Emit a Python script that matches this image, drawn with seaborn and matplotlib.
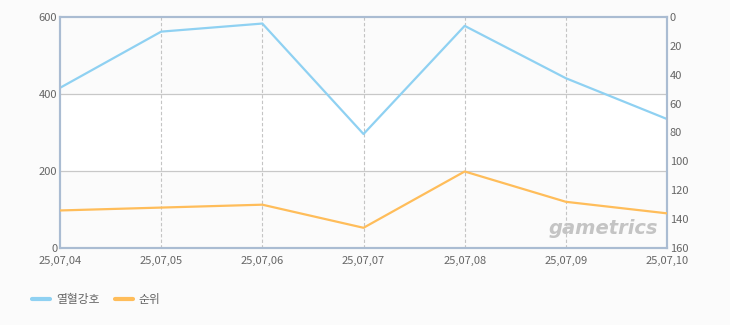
import matplotlib
matplotlib.use("Agg")
import matplotlib.pyplot as plt
import seaborn as sns
import pandas as pd
from matplotlib.lines import Line2D

dates = ["25,07,04", "25,07,05", "25,07,06", "25,07,07", "25,07,08", "25,07,09", "25,07,10"]
usage = [416, 562, 583, 296, 577, 441, 335]
rank = [134, 132, 130, 146, 107, 128, 136]
left_ticks = [0, 200, 400, 600]
right_ticks = [0, 20, 40, 60, 80, 100, 120, 140, 160]
series_names = ["열혈강호", "순위"]

sns.set_theme(style="white")
plt.rcParams['font.family'] = ['Noto Sans CJK KR', 'DejaVu Sans']

BLUE = "#8fd1f2"
ORANGE = "#ffbd5a"
SPINE = "#aabcd2"
TXT = "#666666"

df = pd.DataFrame({"x": range(len(dates)), "usage": usage, "rank": rank})

fig = plt.figure(figsize=(7.3, 3.25), dpi=100, facecolor="#fbfbfb")
ax = fig.add_axes([60/730, 77/325, 607/730, 231/325])
ax.set_facecolor("#fbfbfb")
ax.axhspan(200, 400, color="white", zorder=0)

sns.lineplot(data=df, x="x", y="usage", ax=ax, color=BLUE, linewidth=1.6, zorder=3)
ax.set_xlim(0, len(dates) - 1)
ax.set_ylim(0, 600)
ax.set_yticks(left_ticks)
ax.set_xticks(range(len(dates)))
ax.set_xticklabels(dates)
ax.set_xlabel("")
ax.set_ylabel("")
for v in [200, 400]:
    ax.axhline(v, color="#c8c8c8", linewidth=0.9, zorder=1)
for i in range(1, len(dates) - 1):
    ax.axvline(i, color="#c4c4c4", linewidth=0.8, linestyle=(0, (3, 2)), zorder=1)

ax2 = ax.twinx()
sns.lineplot(data=df, x="x", y="rank", ax=ax2, color=ORANGE, linewidth=1.6, zorder=3)
ax2.set_ylim(160, 0)
ax2.set_yticks(right_ticks)
ax2.set_ylabel("")

for a in (ax, ax2):
    for s in a.spines.values():
        s.set_color(SPINE)
        s.set_linewidth(1.5)
    a.tick_params(axis="both", colors=TXT, labelsize=8, length=0, pad=2)
    for lab in a.get_yticklabels() + a.get_xticklabels():
        lab.set_color(TXT)
ax.tick_params(axis="x", length=0, pad=6)

ax.text(0.985, 0.045, "gametrics", transform=ax.transAxes, ha="right", va="bottom",
        fontsize=14, fontstyle="italic", fontweight="bold", color="#c4c4c4",
        family="DejaVu Sans", zorder=2)

handles = [Line2D([], [], color=BLUE, linewidth=3), Line2D([], [], color=ORANGE, linewidth=3)]
fig.legend(handles, series_names, loc="center left", bbox_to_anchor=(21/730, 1 - 300/325),
           frameon=False, ncol=2, fontsize=8.5, handlelength=1.55, columnspacing=1.3,
           handletextpad=0.5, labelcolor=TXT)

fig.savefig("out.png", dpi=100, facecolor=fig.get_facecolor())
